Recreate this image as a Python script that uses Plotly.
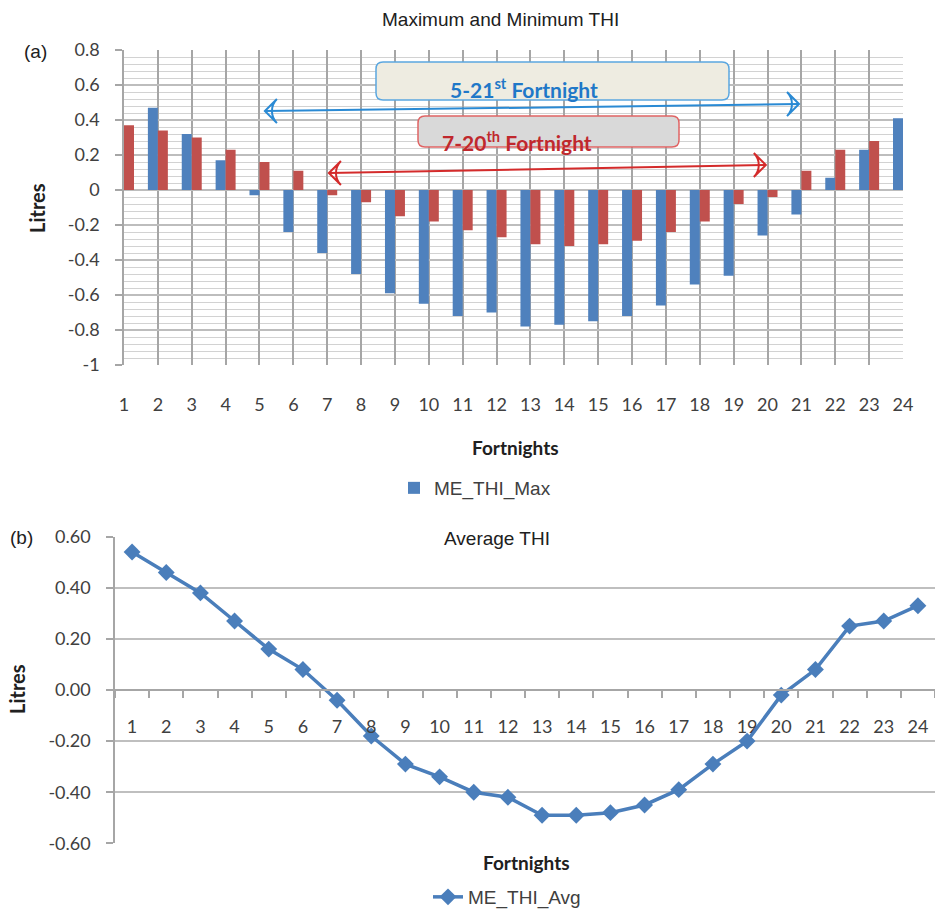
import plotly.graph_objects as go

# ---------------- data ----------------
fortnights = list(range(1, 25))
fortnight_labels = [str(f) for f in fortnights]

thi_max = [0.45, 0.47, 0.32, 0.17, -0.03, -0.24, -0.36, -0.48, -0.59, -0.65, -0.72, -0.70,
           -0.78, -0.77, -0.75, -0.72, -0.66, -0.54, -0.49, -0.26, -0.14, 0.07, 0.23, 0.41]
thi_min = [0.37, 0.34, 0.30, 0.23, 0.16, 0.11, -0.03, -0.07, -0.15, -0.18, -0.23, -0.27,
           -0.31, -0.32, -0.31, -0.29, -0.24, -0.18, -0.08, -0.04, 0.11, 0.23, 0.28, 0.33]
thi_avg = [0.54, 0.46, 0.38, 0.27, 0.16, 0.08, -0.04, -0.18, -0.29, -0.34, -0.40, -0.42,
           -0.49, -0.49, -0.48, -0.45, -0.39, -0.29, -0.20, -0.02, 0.08, 0.25, 0.27, 0.33]

top_tickvals = [0.8, 0.6, 0.4, 0.2, 0, -0.2, -0.4, -0.6, -0.8, -1]
top_ticktext = ["0.8", "0.6", "0.4", "0.2", "0", "-0.2", "-0.4", "-0.6", "-0.8", "-1"]
bot_tickvals = [0.6, 0.4, 0.2, 0, -0.2, -0.4, -0.6]
bot_ticktext = ["0.60", "0.40", "0.20", "0.00", "-0.20", "-0.40", "-0.60"]

# highlighted fortnight spans (start x, end x, start y, end y)
blue_span = (5.16, 20.93, 0.451, 0.491)
red_span = (7.05, 19.95, 0.097, 0.143)

# ---------------- layout geometry ----------------
W, H = 935, 909


def px(x):
    return x / W


def py(y):
    return 1 - y / H


top_xdom = [px(124), px(903)]
top_ydom = [py(365), py(50)]
bot_xdom = [px(115), 1.0]
bot_ydom = [py(843.3), py(536.7)]

CAL = "Lato, 'Open Sans', sans-serif"
ARIAL = "'Liberation Sans', Arial, sans-serif"
NARROW = "'Liberation Sans Narrow', 'Liberation Sans', Arial, sans-serif"
TXT = "#404040"
DARK = "#202020"

fig = go.Figure()
fig.add_trace(go.Bar(x=fortnights, y=thi_max, name="ME_THI_Max", marker_color="#4F81BD",
                     marker_line_width=0, xaxis="x", yaxis="y", legend="legend"))
fig.add_trace(go.Bar(x=fortnights, y=thi_min, name="ME_THI_Min", marker_color="#C0504D",
                     marker_line_width=0, xaxis="x", yaxis="y", showlegend=False))
fig.add_trace(go.Scatter(x=fortnight_labels, y=thi_avg, name="ME_THI_Avg", mode="lines+markers",
                         line=dict(color="#4A7EBB", width=3.5),
                         marker=dict(symbol="diamond", size=13, color="#4A7EBB"),
                         xaxis="x2", yaxis="y2", legend="legend2"))

# double-headed span arrows
for (xa, xb, ya, yb), col in [(blue_span, "#2A8AD4"), (red_span, "#D42B2B")]:
    fig.add_trace(go.Scatter(x=[xa, xb], y=[ya, yb], mode="lines+markers",
                             line=dict(color=col, width=2),
                             marker=dict(symbol="arrow-wide-open", size=17, angle=[-90, 90],
                                         color=col, line=dict(color=col, width=2)),
                             xaxis="x", yaxis="y", showlegend=False, hoverinfo="skip",
                             cliponaxis=False))


def rounded_rect(x0, y0, x1, y1, r=7):
    rx, ry = r / W, r / H
    X0, X1 = px(x0), px(x1)
    Ytop, Ybot = py(y0), py(y1)
    return (f"M{X0+rx},{Ytop} L{X1-rx},{Ytop} Q{X1},{Ytop} {X1},{Ytop-ry} "
            f"L{X1},{Ybot+ry} Q{X1},{Ybot} {X1-rx},{Ybot} L{X0+rx},{Ybot} "
            f"Q{X0},{Ybot} {X0},{Ybot+ry} L{X0},{Ytop-ry} Q{X0},{Ytop} {X0+rx},{Ytop} Z")


shapes = [
    dict(type="path", xref="paper", yref="paper", path=rounded_rect(376, 62, 729, 100),
         fillcolor="#EEECE1", line=dict(color="#5BA7E0", width=1.5), layer="above"),
    dict(type="path", xref="paper", yref="paper", path=rounded_rect(418, 116, 679, 147),
         fillcolor="#D9D9D9", line=dict(color="#E06464", width=1.5), layer="above"),
]


def label(text, x, y, family, size, color=DARK, angle=0):
    return dict(text=text, x=px(x), y=py(y), xref="paper", yref="paper", showarrow=False,
                xanchor="center", yanchor="middle", textangle=angle,
                font=dict(family=family, size=size, color=color))


annotations = [
    label("Maximum and Minimum THI", 500, 20, ARIAL, 19),
    label("(a)", 35, 52, ARIAL, 19),
    label("(b)", 21, 537, NARROW, 19),
    label("Average THI", 497, 538, NARROW, 19),
    label("<b>Fortnights</b>", 515, 447, CAL, 19),
    label("<b>Fortnights</b>", 526, 862, CAL, 19),
    label("<b>Litres</b>", 37, 208, CAL, 20, angle=-90),
    label("<b>Litres</b>", 17, 689, CAL, 20, angle=-90),
    label("<b>5-21<sup>st</sup> Fortnight</b>", 524, 88, CAL, 21, "#1F78C8"),
    label("<b>7-20<sup>th</sup> Fortnight</b>", 517, 141, CAL, 21, "#C0282D"),
]

fig.update_layout(
    width=W, height=H,
    margin=dict(l=0, r=0, t=0, b=0, autoexpand=False),
    paper_bgcolor="white", plot_bgcolor="white",
    barmode="group", bargap=0.41, bargroupgap=0,
    font=dict(family=CAL, color=TXT),
    xaxis=dict(domain=top_xdom, anchor="y", range=[1, 24], tickvals=fortnights,
               ticktext=fortnight_labels, showgrid=True, gridcolor="#A6A6A6", gridwidth=1.5,
               zeroline=False, showline=False, ticks="", ticklabelstandoff=27,
               tickfont=dict(family=CAL, size=18, color=TXT)),
    yaxis=dict(domain=top_ydom, anchor="x", range=[-1, 0.8], tickvals=top_tickvals,
               ticktext=top_ticktext, showgrid=True, gridcolor="#BDBDBD", gridwidth=1.5,
               minor=dict(dtick=0.04, tick0=0, showgrid=True, gridcolor="#D2D2D2",
                          gridwidth=1.3),
               zeroline=False, showline=True, linecolor="#A6A6A6", linewidth=1.5,
               ticks="outside", ticklen=7, tickcolor="#A6A6A6", tickwidth=1.5,
               ticklabelstandoff=12, tickfont=dict(family=CAL, size=18, color=TXT)),
    xaxis2=dict(domain=bot_xdom, type="category", anchor="free",
                position=(bot_ydom[0] + bot_ydom[1]) / 2, range=[-0.5, 23.5],
                tickson="boundaries", ticks="outside", ticklen=7, tickcolor="#A6A6A6",
                tickwidth=1.5, showline=True, linecolor="#A6A6A6", linewidth=1.5,
                showgrid=False, zeroline=False, ticklabelstandoff=21,
                tickfont=dict(family=CAL, size=18, color=TXT)),
    yaxis2=dict(domain=bot_ydom, anchor="x2", range=[-0.6, 0.6], tickvals=bot_tickvals,
                ticktext=bot_ticktext, showgrid=True, gridcolor="#BFBFBF", gridwidth=2,
                zeroline=False, showline=True, linecolor="#A6A6A6", linewidth=1.5,
                ticks="outside", ticklen=7, tickcolor="#A6A6A6", tickwidth=1.5,
                ticklabelstandoff=12, tickfont=dict(family=CAL, size=18, color=TXT)),
    legend=dict(x=px(394), y=py(488), xanchor="left", yanchor="middle",
                bgcolor="rgba(0,0,0,0)", font=dict(family=ARIAL, size=19, color=TXT)),
    legend2=dict(x=px(428), y=py(897), xanchor="left", yanchor="middle",
                 bgcolor="rgba(0,0,0,0)", font=dict(family=ARIAL, size=19, color=TXT)),
    shapes=shapes,
    annotations=annotations,
)

fig.write_html("out.html", config={"displayModeBar": False},
               post_script="document.body.style.margin='0';document.body.style.padding='0';")
